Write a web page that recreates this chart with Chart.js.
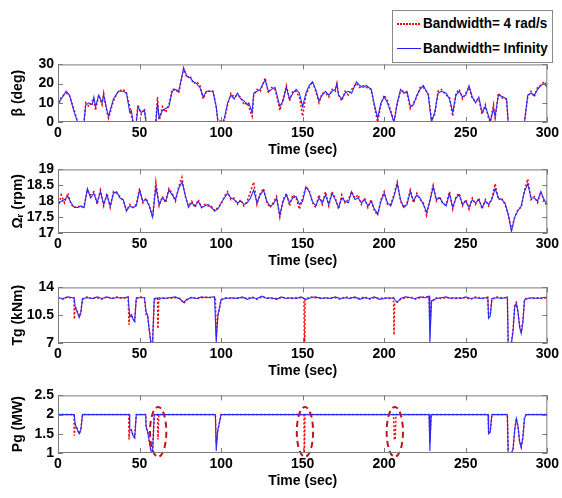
<!DOCTYPE html>
<html>
<head>
<meta charset="utf-8">
<script src="https://cdn.jsdelivr.net/npm/chart.js@4.4.0/dist/chart.umd.min.js"></script>
<style>
body { margin: 0; background: #fff; }
#wrap { position: relative; width: 562px; height: 498px; overflow: hidden; }
.panel { position: absolute; left: 0; width: 562px; }
#legend {
    position: absolute; left: 392px; top: 10px; width: 159px; height: 51px;
    border: 1px solid #888; background: #fff; z-index: 5;
    font: bold 15px "Liberation Sans", Arial, sans-serif;
}
.item { position: absolute; left: 4px; height: 20px; line-height: 20px; white-space: nowrap; }
.smp { position: absolute; left: 0; top: 10px; width: 24px; height: 1px; }
.txt { position: absolute; left: 26px; top: 0; transform: scaleX(0.9); transform-origin: left center; }
</style>
</head>
<body>
<div id="wrap">
  <div class="panel" style="top:52px;height:108px"><canvas id="c1" width="562" height="108"></canvas></div>
  <div class="panel" style="top:157px;height:114px"><canvas id="c2" width="562" height="114"></canvas></div>
  <div class="panel" style="top:275px;height:106px"><canvas id="c3" width="562" height="106"></canvas></div>
  <div class="panel" style="top:383px;height:108px"><canvas id="c4" width="562" height="108"></canvas></div>
  <div id="legend">
    <div class="item" style="top:2px"><span class="smp" style="height:2px;background:repeating-linear-gradient(90deg,#f00 0 2px,transparent 2px 3px)"></span><span class="txt">Bandwidth= 4 rad/s</span></div>
    <div class="item" style="top:27px"><span class="smp" style="background:#2020ff"></span><span class="txt">Bandwidth= Infinity</span></div>
  </div>
</div>
<script>
// Series names
const seriesNames = ["Bandwidth= 4 rad/s", "Bandwidth= Infinity"];

// Axis ticks
const timeTicks = [0, 50, 100, 150, 200, 250, 300];
const betaTicks = [0, 10, 20, 30];
const omegaTicks = [17, 17.5, 18, 18.5, 19];
const tgTicks = [7, 10.5, 14];
const pgTicks = [1, 1.5, 2, 2.5];

// Panel 1: pitch angle beta (deg)
const betaTime = [0,2,5,7,10,12,15,16,17,19,21,22,23,25,27,28,30,31,34,37,40,42,44,45,46,48,49,51,53,54,60,61,62,64,66,68,70,72,74,77,79,81,83,85,87,89,91,95,97,98,101,102,104,106,108,110,112,114,116,117,119,120,122,124,127,129,131,133,134,136,138,140,142,144,146,148,150,152,154,156,158,160,162,164,166,168,170,171,172,174,176,178,180,183,185,187,189,192,194,196,198,200,202,204,206,208,210,212,214,216,218,220,222,224,227,229,231,233,235,238,240,242,244,246,248,250,252,254,256,258,260,262,264,265,267,268,270,273,275,276,286,288,290,292,294,296,298,300];
const betaBlue = [10,12,16,14,5,0,0,0,9,10,9,13,8,14,10,14,6,3,12,16,16,15,5,6,0,0,8,5,6,0,0,10,2,6,7,8,16,17,16,28,24,23,21,20,18,13,16,16,8,0,0,2,10,14,12,15,12,11,9,10,5,15,16,17,22,16,17,18,15,8,11,18,12,15,17,15,8,15,19,21,17,11,14,16,14,16,17,20,14,12,15,16,15,21,19,18,19,17,9,2,10,13,10,5,0,10,17,15,16,8,9,14,17,19,14,0,5,15,16,15,12,5,14,16,13,14,19,13,10,13,5,8,3,0,7,3,14,13,12,0,0,14,15,14,17,19,20,18];
const betaRed = [8,13,15,14,6,0,0,1,10,8,11,12,6,14,9,15,5,2,11,16,17,15,8,3,0,0,9,4,7,0,0,13,0,8,5,9,17,17,15,28,23,24,20,21,19,12,16,16,8,1,0,1,9,15,13,14,13,9,10,8,3,14,17,16,23,15,18,17,14,6,12,19,11,16,16,13,3,14,18,21,16,10,15,15,13,17,16,20,14,11,16,14,17,20,18,19,18,17,8,0,9,14,11,6,0,10,16,16,15,7,10,13,18,18,15,1,4,16,17,14,13,3,15,17,12,15,18,12,11,12,4,9,2,0,9,2,15,12,12,0,0,13,16,13,18,19,21,19];

// Panel 2: rotor speed (rpm), sampled every 2 s
const omegaTime = Array.from({ length: 151 }, (_, i) => i * 2);
const omegaBlue = [17.9,18.0,18.05,18.15,17.95,17.8,17.8,17.85,17.8,18.4,18.1,18.25,17.95,18.3,17.9,18.2,17.85,18.25,18.3,18.1,18.05,17.7,17.85,17.8,17.85,18.35,18.0,18.05,17.85,17.5,18.45,17.9,18.1,18.0,18.35,18.2,18.05,18.4,18.6,18.2,17.8,17.95,17.85,18.0,17.8,17.85,17.9,17.8,17.7,17.75,17.95,18.1,18.25,18.1,18.05,17.95,18.0,17.9,17.95,18.1,18.35,17.95,18.2,18.35,18.0,17.85,17.9,18.1,17.55,18.0,18.2,17.95,18.1,18.15,17.9,18.0,18.45,18.3,18.0,17.85,18.1,17.95,18.2,17.9,18.25,18.05,17.8,18.1,18.0,17.95,18.3,18.05,18.1,17.95,18.05,17.85,18.0,17.75,17.6,18.0,18.25,17.95,17.85,18.15,18.55,18.05,17.8,17.9,18.3,18.0,18.2,18.1,17.9,17.65,18.0,18.45,18.05,18.1,17.95,17.85,18.25,17.8,18.1,18.2,17.9,18.0,17.8,18.05,17.95,18.05,17.8,18.0,17.9,18.05,18.4,18.1,18.05,17.95,17.6,17.05,17.5,17.7,17.85,18.3,18.55,18.1,18.1,18.0,18.3,18.05,17.9];
const omegaRed = [17.8,18.2,17.95,18.25,17.9,17.8,17.85,17.8,17.85,18.35,18.2,18.3,17.9,18.35,17.85,18.25,17.8,18.3,18.25,18.15,18.0,17.7,17.9,17.8,17.9,18.4,17.95,18.1,17.85,17.5,18.6,17.85,18.15,17.95,18.4,18.25,18.0,18.45,18.75,18.15,17.85,18.0,17.8,18.05,17.8,17.9,17.85,17.85,17.7,17.8,17.9,18.15,18.3,18.05,18.1,17.9,18.05,17.85,18.0,18.3,18.6,17.9,18.25,18.4,17.95,17.8,17.95,18.15,17.5,18.05,18.25,17.85,18.2,18.1,17.75,18.1,18.45,18.35,17.95,17.8,18.2,17.9,18.3,17.85,18.3,18.1,17.75,18.2,17.95,18.05,18.3,18.1,18.2,17.9,18.1,17.8,18.05,17.7,17.55,18.05,18.3,17.9,17.9,18.2,18.6,18.0,17.8,17.95,18.35,17.95,18.25,18.05,17.95,17.55,18.05,18.5,18.0,18.15,17.9,17.9,18.3,17.75,18.15,18.25,17.85,18.05,17.75,18.1,17.9,18.1,17.75,18.05,17.85,18.1,18.55,18.05,18.1,17.9,17.6,17.1,17.5,17.75,17.8,18.35,18.7,18.05,18.15,17.95,18.3,18.0,17.85];

// Panel 3: generator torque (kNm)
const tgBlueTime = [0,3,6,9,10,10.5,12,13,14,15,18,21,24,27,30,33,36,40,43,44,45,46,47,48,51,53,54,55,56,57,58,59,62,65,68,72,75,77,79,82,85,88,91,94,96,97,98,100,103,106,110,113,116,119,122,125,128,131,134,137,140,143,146,149,152,155,158,161,164,167,170,173,176,179,182,185,188,191,194,197,200,203,206,208,210,213,216,219,222,225,227.5,228,229,232,235,238,241,244,247,250,253,256,259,262,263.5,264,265,266,269,272,275.5,276,278,279,280,281,282,283,284,285,286,288,291,294,297,300];
const tgBlue = [12.7,12.6,12.8,12.7,12.6,11.6,10.8,10.2,10.8,12.6,12.7,12.6,12.8,12.6,12.8,12.6,12.7,12.7,12.8,10.3,10.6,10.0,9.7,12.7,12.7,12.7,11.0,10.4,8.5,7.0,7.0,12.6,12.7,12.6,12.7,12.8,12.5,12.1,12.5,12.7,12.6,12.8,12.7,12.8,12.8,7.0,10.5,12.5,12.6,12.7,12.6,12.8,12.5,12.7,12.6,12.9,12.6,12.7,12.5,12.8,12.6,12.7,12.6,12.8,12.5,12.7,12.8,12.6,12.7,12.6,12.8,12.6,12.7,12.6,12.8,12.5,12.7,12.6,12.8,12.5,12.6,12.7,12.6,12.1,12.6,12.8,12.7,12.6,12.8,12.7,12.9,7.0,12.3,12.6,12.7,12.8,12.6,12.7,12.6,12.8,12.6,12.7,12.6,12.7,12.8,10.1,10.4,12.6,12.7,12.6,12.8,7.0,7.0,8.5,11.5,12.0,11.0,9.0,8.2,9.5,12.4,12.6,12.7,12.6,12.7,12.8];
const tgRedTime = [0,3,6,9,9.8,10,10.5,12,13,14,15,18,21,24,27,30,33,36,40,43,43.5,44,45,46,47,48,51,53,54,55,56,57,58,59,61,61.3,61.8,65,68,72,75,77,79,82,85,88,91,94,96.5,97,98,100,103,106,110,113,116,119,122,125,128,131,134,137,140,143,146,149,150.8,151,151.3,151.5,155,158,161,164,167,170,173,176,179,182,185,188,191,194,197,200,203,205.7,206,206.4,208,210,213,216,219,222,225,227.5,228,229,232,235,238,241,244,247,250,253,256,259,262,263.5,264,265,266,269,272,275.5,276,278,279,280,281,282,283,284,285,286,288,291,294,297,300];
const tgRed = [12.7,12.5,12.8,12.6,12.7,10.0,11.6,10.9,10.3,10.9,12.5,12.8,12.6,12.7,12.5,12.8,12.6,12.8,12.6,12.8,9.3,10.5,10.4,10.1,9.8,12.6,12.8,12.7,10.5,10.3,8.6,7.0,7.0,12.5,12.7,8.8,12.5,12.7,12.6,12.7,12.6,12.0,12.4,12.8,12.6,12.7,12.8,12.7,12.8,8.0,10.3,12.4,12.7,12.6,12.7,12.7,12.6,12.8,12.5,12.8,12.7,12.6,12.6,12.7,12.7,12.6,12.7,12.7,12.6,7.0,7.0,12.5,12.8,12.7,12.7,12.6,12.7,12.7,12.5,12.8,12.7,12.7,12.6,12.8,12.5,12.7,12.6,12.7,12.6,12.7,8.0,12.0,12.2,12.5,12.7,12.8,12.5,12.7,12.8,12.8,9.0,12.2,12.7,12.6,12.7,12.7,12.6,12.7,12.7,12.5,12.8,12.7,12.6,12.7,10.3,10.5,12.5,12.8,12.7,12.7,7.0,7.0,8.8,11.8,12.1,10.8,9.2,8.4,9.8,12.5,12.7,12.6,12.7,12.6,12.7];

// Panel 4: generator power (MW)
const pgBlueTime = [0,10,10.5,12,13,14,15,43.8,44,45,46,47,48,53.8,54,55,56,57,58,59,96.5,97,98,100,227.5,228,228.8,263.7,264,265,266,275.5,276,278,279,280,281,282,283,284,285,286,287,300];
const pgBlue = [2,2,1.75,1.6,1.5,1.6,2,2,1.6,1.6,1.45,1.4,2,2,1.7,1.55,1.3,1.05,1.05,2,2,1.05,1.6,2,2,1.05,2,2,1.5,1.55,2,2,1.0,1.0,1.1,1.6,1.9,1.7,1.3,1.15,1.4,1.9,2,2];
const pgRedTime = [0,9.8,10,10.5,12,13,14,15,43.3,43.5,44,45,46,47,48,53.8,54,55,56,57,58,59,61,61.3,61.8,96.5,97,98,100,150.8,151,151.5,205.7,206.2,206.8,207.2,227.5,228,228.8,263.7,264,265,266,275.5,276,278,279,280,281,282,283,284,285,286,287,300];
const pgRed = [2,2,1.45,1.75,1.6,1.5,1.6,2,2,1.35,1.6,1.6,1.45,1.4,2,2,1.65,1.55,1.3,1.05,1.05,2,2,1.35,2,2,1.25,1.6,2,2,1.0,2,2,1.35,1.35,2,2,1.3,2,2,1.5,1.55,2,2,1.0,1.0,1.1,1.6,1.9,1.7,1.3,1.15,1.4,1.9,2,2];

// Times of the marked red spikes in the Pg panel
const markTimes = [61.4, 151.4, 206.5];

const FONT = '"Liberation Sans", Arial, sans-serif';

function pts(t, v) {
    return t.map((x, i) => ({ x: x, y: v[i] }));
}

// Draws the MATLAB-style box with inward ticks
const boxPlugin = {
    id: 'box',
    afterDraw(chart) {
        const { ctx, chartArea: a, scales } = chart;
        ctx.save();
        ctx.strokeStyle = '#7a7a7a';
        ctx.lineWidth = 1;
        ctx.strokeRect(a.left + 0.5, a.top + 0.5, a.right - a.left - 1, a.bottom - a.top - 1);
        ctx.beginPath();
        scales.x.ticks.forEach(t => {
            const px = Math.round(scales.x.getPixelForValue(t.value)) + 0.5;
            ctx.moveTo(px, a.bottom); ctx.lineTo(px, a.bottom - 5);
            ctx.moveTo(px, a.top); ctx.lineTo(px, a.top + 5);
        });
        scales.y.ticks.forEach(t => {
            const py = Math.round(scales.y.getPixelForValue(t.value)) + 0.5;
            ctx.moveTo(a.left, py); ctx.lineTo(a.left + 5, py);
            ctx.moveTo(a.right, py); ctx.lineTo(a.right - 5, py);
        });
        ctx.stroke();
        ctx.restore();
    }
};

// Dashed ellipses around the red spikes (Pg panel)
const ellipsePlugin = {
    id: 'ellipses',
    afterDatasetsDraw(chart, args, opts) {
        if (!opts.times) return;
        const { ctx, scales: { x, y } } = chart;
        ctx.save();
        ctx.strokeStyle = '#c0161b';
        ctx.lineWidth = 2;
        ctx.setLineDash([6, 4]);
        opts.times.forEach(t => {
            const cx = x.getPixelForValue(t);
            const rx = Math.abs(x.getPixelForValue(t + 5) - cx);
            const cy = y.getPixelForValue(1.55);
            const ry = Math.abs(y.getPixelForValue(2.2) - cy);
            ctx.beginPath();
            ctx.ellipse(cx, cy, rx, ry, 0, 0, Math.PI * 2);
            ctx.stroke();
        });
        ctx.restore();
    }
};

const tickFont = { family: FONT, size: 14, weight: 'bold' };

function makePanel(id, yTitle, yTicks, red, blue, marks) {
    new Chart(document.getElementById(id), {
        type: 'line',
        data: {
            datasets: [
                { label: seriesNames[1], data: blue, borderColor: '#2a2aff', borderWidth: 1.1, pointRadius: 0, order: 1 },
                { label: seriesNames[0], data: red, borderColor: '#ff0000', borderWidth: 1.5, borderDash: [2, 2], pointRadius: 0, order: 2 }
            ]
        },
        options: {
            responsive: false,
            animation: false,
            layout: { padding: { top: 10, right: 11, left: 0, bottom: 0 } },
            plugins: {
                legend: { display: false },
                tooltip: { enabled: false },
                ellipses: { times: marks }
            },
            scales: {
                x: {
                    type: 'linear', min: timeTicks[0], max: timeTicks[timeTicks.length - 1],
                    afterBuildTicks(s) { s.ticks = timeTicks.map(v => ({ value: v })); },
                    ticks: { padding: 3, autoSkip: false, maxRotation: 0, color: '#000', font: tickFont },
                    grid: { display: false, drawTicks: false },
                    border: { display: false },
                    title: { display: true, text: 'Time (sec)', color: '#000', padding: { top: 0, bottom: 1 }, font: tickFont },
                    afterFit(s) { s.height = 38; }
                },
                y: {
                    min: yTicks[0], max: yTicks[yTicks.length - 1],
                    afterBuildTicks(s) { s.ticks = yTicks.map(v => ({ value: v })); },
                    ticks: {
                        padding: 4, autoSkip: false, color: '#000', font: tickFont,
                        callback: v => String(+v.toFixed(2))
                    },
                    grid: { display: false, drawTicks: false },
                    border: { display: false },
                    title: { display: true, text: yTitle, color: '#000', padding: { top: 10 }, font: tickFont },
                    afterFit(s) { s.width = 58; }
                }
            }
        },
        plugins: [boxPlugin, ellipsePlugin]
    });
}

makePanel('c1', 'β (deg)', betaTicks, pts(betaTime, betaRed), pts(betaTime, betaBlue));
makePanel('c2', 'Ωᵣ (rpm)', omegaTicks, pts(omegaTime, omegaRed), pts(omegaTime, omegaBlue));
makePanel('c3', 'Tg (kNm)', tgTicks, pts(tgRedTime, tgRed), pts(tgBlueTime, tgBlue));
makePanel('c4', 'Pg (MW)', pgTicks, pts(pgRedTime, pgRed), pts(pgBlueTime, pgBlue), markTimes);
</script>
</body>
</html>
